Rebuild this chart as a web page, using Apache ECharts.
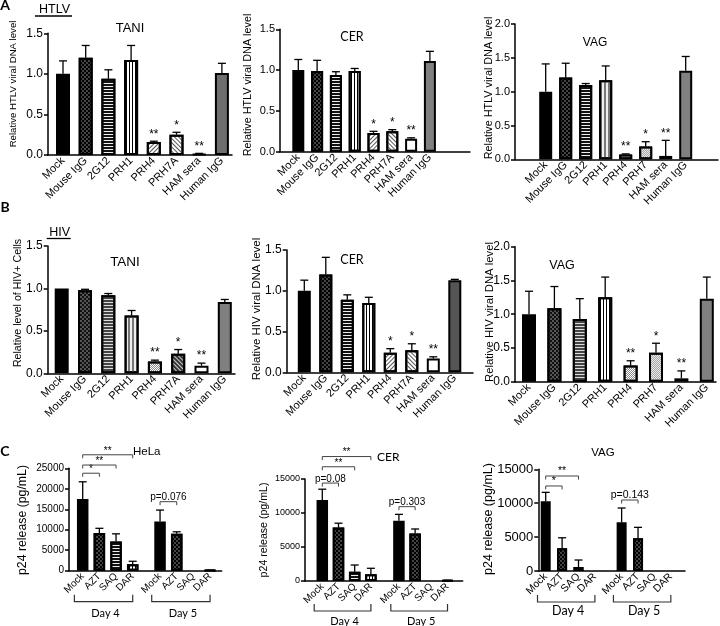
<!DOCTYPE html>
<html><head><meta charset="utf-8">
<script src="https://cdn.jsdelivr.net/npm/echarts@6/dist/echarts.min.js"></script>
<style>html,body{margin:0;padding:0;background:#fff}#c{width:720px;height:626px}</style>
</head><body><div id="c"></div>
<script>
// ---------------- DATA ----------------
const htlvCats = ['Mock','Mouse IgG','2G12','PRH1','PRH4','PRH7A','HAM sera','Human IgG'];
const vagCats  = ['Mock','Mouse IgG','2G12','PRH1','PRH4','PRH7','HAM sera','Human IgG'];
const p24Cats  = ['Mock','AZT','SAQ','DAR'];
const p24Days  = ['Day 4','Day 5'];

const htlvTaniMean = [1.00, 1.20, 0.94, 1.17, 0.16, 0.25, 0.01, 1.01];
const htlvTaniSD   = [0.16, 0.15, 0.11, 0.18, 0.01, 0.03, 0.01, 0.12];
const htlvTaniSig  = ['', '', '', '', '**', '*', '**', ''];
const htlvCerMean  = [1.00, 0.99, 0.94, 0.99, 0.23, 0.25, 0.16, 1.11];
const htlvCerSD    = [0.13, 0.13, 0.04, 0.03, 0.02, 0.02, 0.01, 0.12];
const htlvCerSig   = ['', '', '', '', '*', '*', '**', ''];
const htlvVagMean  = [1.00, 1.21, 1.10, 1.17, 0.07, 0.19, 0.05, 1.31];
const htlvVagSD    = [0.41, 0.21, 0.02, 0.21, 0.01, 0.07, 0.23, 0.21];
const htlvVagSig   = ['', '', '', '', '**', '*', '**', ''];

const hivTaniMean  = [1.00, 0.98, 0.92, 0.68, 0.14, 0.23, 0.09, 0.84];
const hivTaniSD    = [0.00, 0.01, 0.02, 0.06, 0.015, 0.05, 0.03, 0.03];
const hivTaniSig   = ['', '', '', '', '**', '*', '**', ''];
const hivCerMean   = [1.00, 1.20, 0.89, 0.85, 0.24, 0.27, 0.17, 1.13];
const hivCerSD     = [0.13, 0.21, 0.06, 0.07, 0.05, 0.08, 0.02, 0.01];
const hivCerSig    = ['', '', '', '', '*', '*', '**', ''];
const hivVagMean   = [1.00, 1.09, 0.93, 1.25, 0.24, 0.43, 0.05, 1.23];
const hivVagSD     = [0.34, 0.32, 0.30, 0.30, 0.07, 0.14, 0.11, 0.32];
const hivVagSig    = ['', '', '', '', '**', '*', '**', ''];

// p24: Day 4 (Mock, AZT, SAQ, DAR), then Day 5 (Mock, AZT, SAQ, DAR)
const p24HelaMean = [17500, 9200, 7100, 1600, 12000, 9000, 0, 100];
const p24HelaSD   = [4200, 1150, 1900, 700, 2800, 500, 0, 50];
const p24CerMean  = [11900, 7850, 1370, 1000, 8850, 7000, 0, 80];
const p24CerSD    = [1600, 650, 980, 870, 950, 650, 0, 40];
const p24VagMean  = [10300, 3340, 590, 0, 7180, 4820, 0, 0];
const p24VagSD    = [1300, 1560, 1030, 0, 2110, 1620, 0, 0];
// comparisons: [from bar, to bar, bracket level (pg/mL), label]
const p24HelaComp = [[0,1,23800,'*'],[0,2,25800,'**'],[0,3,28300,'**'],[4,5,16850,'p=0.076']];
const p24CerComp  = [[0,1,14400,'p=0.08'],[0,2,16800,'**'],[0,3,18300,'**'],[4,5,10930,'p=0.303']];
const p24VagComp  = [[0,1,12540,'*'],[0,2,14010,'**'],[4,5,10470,'p=0.143']];

const relMax1 = 1.5, relMax2 = 2.0, relStep = 0.5;
const p24Max1 = 25000, p24Max2 = 15000, p24Step = 5000;

// ---------------- STYLE ----------------
const FONT = "'Liberation Sans', Arial, sans-serif";
const FONT2 = "Lato, 'Open Sans', sans-serif";
function dec(color, ax, ay, rot){ return {symbol:'rect', symbolSize:1, color:color, dashArrayX:ax, dashArrayY:ay, rotation:rot||0}; }
const PAT = {
  solid:   {color:'#000'},
  gray:    {color:'#6e6e6e'},
  grayL:   {color:'#808080'},
  grayD:   {color:'#555'},
  white:   {color:'#fff'},
  check:   {color:'#444', decal: dec('#000', [[2,2],[0,2,2,0]], [2,0])},
  checkF:  {color:'#555', decal: dec('#111', [[1.5,1.5],[0,1.5,1.5,0]], [1.5,0])},
  hstripe: {color:'#eee', decal: dec('#111', [1,0], [2,1])},
  hstripeG:{color:'#ddd', decal: dec('#444', [1,0], [2,1])},
  vstripe: {color:'#fff', decal: dec('#000', [1,2], [1,0])},
  vstripeG:{color:'#eee', decal: dec('#777', [1.5,1.5], [1,0])},
  diagR:   {color:'#fff', decal: dec('#555', [1,0], [1,1.5], -Math.PI/4)},
  diagL:   {color:'#fff', decal: dec('#555', [1,0], [1,1.5], Math.PI/4)},
  diagLD:  {color:'#ccc', decal: dec('#333', [1,0], [1.2,1], Math.PI/4)},
  fineG:   {color:'#fff', decal: dec('#888', [[1,1],[0,1,1,0]], [1,0])},
  dotsL:   {color:'#e6e6e6', decal: dec('#aaa', [[1,1],[0,1,1,0]], [1,0])}
};

// layout per panel (pixels): y-axis x, axis end, top (ymax) y, zero y, first bar center, bar step
const PANELS = [
 {cats:htlvCats, mean:htlvTaniMean, sd:htlvTaniSD, sig:htlvTaniSig, ymax:relMax1, yint:relStep, dec:1,
  L:{ax:48, end:232, top:33.3, y0:155, x0:63, step:22.7, bw:14, tickFs:12, catFs:11, starFs:12},
  pats:['solid','check','hstripe','vstripe','diagR','diagL','white','gray']},
 {cats:htlvCats, mean:htlvCerMean, sd:htlvCerSD, sig:htlvCerSig, ymax:relMax1, yint:relStep, dec:1,
  L:{ax:280, end:470, top:29.3, y0:151.7, x0:298.3, step:18.8, bw:12, tickFs:11, catFs:11, starFs:12},
  pats:['solid','check','hstripe','vstripe','diagR','diagL','white','grayL']},
 {cats:vagCats, mean:htlvVagMean, sd:htlvVagSD, sig:htlvVagSig, ymax:relMax2, yint:relStep, dec:1,
  L:{ax:515, end:718, top:24, y0:159.3, x0:545.7, step:20, bw:13, tickFs:11, catFs:11, starFs:12},
  pats:['solid','check','hstripe','vstripeG','fineG','dotsL','white','grayL']},
 {cats:htlvCats, mean:hivTaniMean, sd:hivTaniSD, sig:hivTaniSig, ymax:relMax1, yint:relStep, dec:1,
  L:{ax:47.7, end:235, top:246, y0:373.3, x0:61.7, step:23.3, bw:14, tickFs:12, catFs:11, starFs:12},
  pats:['solid','checkF','hstripeG','vstripeG','fineG','diagLD','white','grayL']},
 {cats:htlvCats, mean:hivCerMean, sd:hivCerSD, sig:hivCerSig, ymax:relMax1, yint:relStep, dec:1,
  L:{ax:286.7, end:473, top:250, y0:372.3, x0:304.3, step:21.5, bw:13, tickFs:12, catFs:11, starFs:12},
  pats:['solid','check','hstripe','vstripe','diagR','diagL','white','grayD']},
 {cats:vagCats, mean:hivVagMean, sd:hivVagSD, sig:hivVagSig, ymax:relMax2, yint:relStep, dec:1,
  L:{ax:515, end:716, top:246.7, y0:381.7, x0:529, step:25.4, bw:14, tickFs:12, catFs:11, starFs:12},
  pats:['solid','checkF','hstripeG','vstripe','fineG','dotsL','white','grayL']},
 {cats:p24Cats, days:p24Days, mean:p24HelaMean, sd:p24HelaSD, comp:p24HelaComp, ymax:p24Max1, yint:p24Step, dec:0,
  L:{ax:69, end:221.7, top:468.3, y0:570.7, x0:82.7, step:16.67, gap:4.64, bw:11.5, tickFs:10, catFs:10, brFs:10, dayFs:11, dayLine:31, dayText:43},
  pats:['solid','check','hstripe','vstripe','solid','check','hstripe','vstripe']},
 {cats:p24Cats, days:p24Days, mean:p24CerMean, sd:p24CerSD, comp:p24CerComp, ymax:p24Max2, yint:p24Step, dec:0,
  L:{ax:305, end:462.7, top:479, y0:581, x0:322.3, step:16.2, gap:4.73, bw:11.5, tickFs:9, catFs:10, brFs:10, dayFs:11, dayLine:30, dayText:40},
  pats:['solid','check','hstripe','vstripe','solid','check','hstripe','vstripe']},
 {cats:p24Cats, days:p24Days, mean:p24VagMean, sd:p24VagSD, comp:p24VagComp, ymax:p24Max2, yint:p24Step, dec:0,
  L:{ax:538.3, end:685, top:469.3, y0:571, x0:545.7, step:16.4, gap:4.63, bw:10, tickFs:13, catFs:10.5, brFs:10.5, dayFs:12.5, dayLine:31, dayText:40},
  pats:['solid','check','hstripe','vstripe','solid','check','hstripe','vstripe']}
];

const TITLES = [
 {t:'TANI', x:130, y:28, fs:13}, {t:'CER', x:352, y:37, fs:12.5, f:FONT2}, {t:'VAG', x:595, y:43, fs:12},
 {t:'TANI', x:125, y:262, fs:13.5}, {t:'CER', x:352, y:260, fs:12.5, f:FONT2}, {t:'VAG', x:562, y:266, fs:12.5},
 {t:'HeLa', x:133, y:452, fs:11.5, a:'left'}, {t:'CER', x:377, y:457, fs:12, f:FONT2, a:'left'}, {t:'VAG', x:603, y:453, fs:11.5}
];
const YTITLES = [
 {t:'Relative HTLV viral DNA level', x:13, y:84, fs:9.6},
 {t:'Relative HTLV viral DNA level', x:248, y:85, fs:10.8},
 {t:'Relative HTLV viral DNA level', x:489, y:88, fs:10.8},
 {t:'Relative level of HIV+ Cells', x:18, y:303, fs:10.6},
 {t:'Relative HIV viral DNA level', x:257, y:309, fs:11.5},
 {t:'Relative HIV viral DNA level', x:490, y:312, fs:11.3},
 {t:'p24 release (pg/mL)', x:23, y:520, fs:12.3},
 {t:'p24 release (pg/mL)', x:264, y:530, fs:10.6},
 {t:'p24 release (pg/mL)', x:489, y:519, fs:12.5}
];

// ---------------- BUILD ----------------
const grids = [], xAxes = [], yAxes = [], series = [];

function errRender(sig){
  return function(params, api){
    const x = api.value(0), m = api.value(1), s = api.value(2);
    const p0 = api.coord([x, m]), p1 = api.coord([x, m + s]);
    const ch = [];
    if (s > 0) {
      ch.push({type:'line', shape:{x1:p0[0], y1:p0[1], x2:p1[0], y2:p1[1]}, style:{stroke:'#000', lineWidth:1.3}});
      ch.push({type:'line', shape:{x1:p1[0]-4, y1:p1[1], x2:p1[0]+4, y2:p1[1]}, style:{stroke:'#000', lineWidth:1.3}});
    }
    const t = sig && sig[params.dataIndex];
    if (t) ch.push({type:'text', x:p1[0], y:p1[1]-1, style:{text:t, textAlign:'center', textVerticalAlign:'bottom', font:'12px ' + FONT, fill:'#000'}});
    return {type:'group', children:ch};
  };
}

PANELS.forEach((P, k) => {
  const L = P.L;
  const xs = P.mean.map((_, i) => P.days ? (i % P.cats.length) + Math.floor(i / P.cats.length) * L.gap : i);
  const names = P.mean.map((_, i) => P.cats[i % P.cats.length]);
  grids.push({left:L.ax, top:L.top, width:L.end - L.ax, height:L.y0 - L.top, containLabel:false, outerBoundsMode:'none'});
  xAxes.push({
    type:'value', gridIndex:k, min:(L.ax - L.x0) / L.step, max:(L.end - L.x0) / L.step,
    axisLine:{show:true, onZero:false, lineStyle:{color:'#000', width:1.5}},
    axisTick:{show:false}, splitLine:{show:false},
    axisLabel:{show:true, customValues:xs, rotate:45, margin:4, fontSize:L.catFs, fontFamily:FONT, color:'#000',
      formatter:(v) => { const i = xs.findIndex(x => Math.abs(x - v) < 1e-6); return i >= 0 ? names[i] : ''; }}
  });
  yAxes.push({
    type:'value', gridIndex:k, min:0, max:P.ymax, interval:P.yint,
    axisLine:{show:true, onZero:false, lineStyle:{color:'#000', width:1.5}},
    axisTick:{show:true, length:4, lineStyle:{color:'#000', width:1.5}},
    splitLine:{show:false},
    axisLabel:{margin:5, fontSize:L.tickFs, fontFamily:FONT, color:'#000',
      formatter:(v) => P.dec ? v.toFixed(P.dec) : String(v)}
  });
  series.push({
    type:'bar', xAxisIndex:k, yAxisIndex:k, barWidth:L.bw, silent:true, animation:false,
    data:P.mean.map((v, i) => ({value:[xs[i], v],
      itemStyle:Object.assign({borderColor:'#000', borderWidth: v > 0 ? 2 : 0}, PAT[P.pats[i]])}))
  });
  series.push({
    type:'custom', xAxisIndex:k, yAxisIndex:k, silent:true, animation:false, z:3,
    encode:{x:0, y:1},
    data:P.mean.map((v, i) => [xs[i], v, P.sd[i]]),
    renderItem:errRender(P.sig)
  });
  if (P.comp) {
    const comp = P.comp;
    series.push({
      type:'custom', xAxisIndex:k, yAxisIndex:k, silent:true, animation:false, z:4, clip:false,
      encode:{x:0, y:1},
      data:comp.map(c => [xs[c[0]], c[2]]),
      renderItem:(params, api) => {
        const c = comp[params.dataIndex];
        const a = api.coord([xs[c[0]], c[2]]), b = api.coord([xs[c[1]], c[2]]);
        return {type:'group', children:[
          {type:'polyline', shape:{points:[[a[0], a[1]+3.5], [a[0], a[1]], [b[0], b[1]], [b[0], b[1]+3.5]]}, style:{stroke:'#444', lineWidth:1, fill:'none'}},
          {type:'text', x:(a[0]+b[0])/2, y:a[1]+1, style:{text:c[3], textAlign:'center', textVerticalAlign:'bottom', font:L.brFs + 'px ' + FONT, fill:'#000'}}
        ]};
      }
    });
    const per = P.cats.length;
    series.push({
      type:'custom', xAxisIndex:k, yAxisIndex:k, silent:true, animation:false, z:4, clip:false,
      encode:{x:0, y:1},
      data:P.days.map((d, g) => [xs[g * per], 0]),
      renderItem:(params, api) => {
        const g = params.dataIndex;
        const a = api.coord([xs[g * per] - 0.5, 0]), b = api.coord([xs[g * per + per - 1], 0]);
        const yl = a[1] + L.dayLine;
        return {type:'group', children:[
          {type:'polyline', shape:{points:[[a[0], yl-7], [a[0], yl], [b[0], yl], [b[0], yl-7]]}, style:{stroke:'#333', lineWidth:1.2, fill:'none'}},
          {type:'text', x:(a[0]+b[0])/2 + 2, y:a[1] + L.dayText, style:{text:P.days[g], textAlign:'center', textVerticalAlign:'middle', font:L.dayFs + 'px ' + FONT2, fill:'#000'}}
        ]};
      }
    });
  }
});

const graphic = [];
TITLES.forEach(t => graphic.push({type:'text', x:t.x, y:t.y, silent:true,
  style:{text:t.t, textAlign:t.a || 'center', textVerticalAlign:'middle', font:t.fs + 'px ' + (t.f || FONT), fill:'#000'}}));
YTITLES.forEach(t => graphic.push({type:'text', x:t.x, y:t.y, rotation:Math.PI/2, silent:true,
  style:{text:t.t, textAlign:'center', textVerticalAlign:'middle', font:t.fs + 'px ' + FONT, fill:'#000'}}));
[['A',5,5],['B',5,207],['C',5,451]].forEach(p => graphic.push({type:'text', x:p[1], y:p[2], silent:true,
  style:{text:p[0], textAlign:'center', textVerticalAlign:'middle', font:'bold 14px ' + FONT2, fill:'#000'}}));
graphic.push({type:'text', x:54.5, y:9.5, silent:true, style:{text:'HTLV', textAlign:'center', textVerticalAlign:'middle', font:'12.5px ' + FONT, fill:'#000'}});
graphic.push({type:'line', silent:true, shape:{x1:35, y1:16, x2:72, y2:16}, style:{stroke:'#000', lineWidth:1.3}});
graphic.push({type:'text', x:59.7, y:232.5, silent:true, style:{text:'HIV', textAlign:'center', textVerticalAlign:'middle', font:'12.5px ' + FONT, fill:'#000'}});
graphic.push({type:'line', silent:true, shape:{x1:46.7, y1:238.5, x2:70.7, y2:238.5}, style:{stroke:'#000', lineWidth:1.3}});

const chart = echarts.init(document.getElementById('c'), null, {renderer:'canvas'});
chart.setOption({
  animation:false, backgroundColor:'#fff',
  grid:grids, xAxis:xAxes, yAxis:yAxes, series:series, graphic:graphic
});
</script></body></html>
